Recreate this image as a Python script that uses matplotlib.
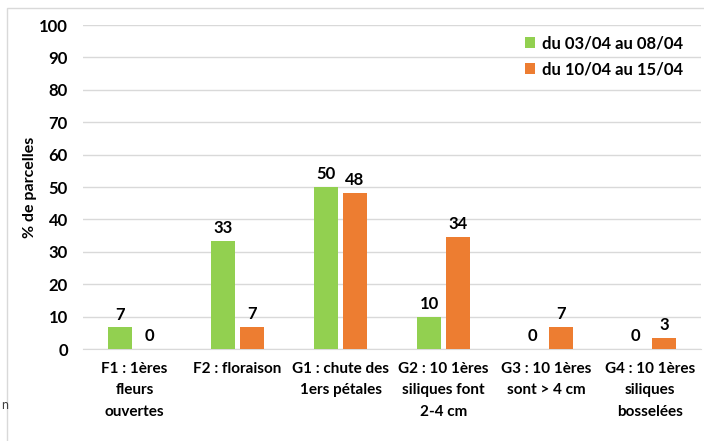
import numpy as np
import matplotlib
matplotlib.use("Agg")
import matplotlib.pyplot as plt
from matplotlib.patches import Rectangle

# Données
stades = ["F1 : 1ères\nfleurs\nouvertes", "F2 : floraison", "G1 : chute des\n1ers pétales",
          "G2 : 10 1ères\nsiliques font\n2-4 cm", "G3 : 10 1ères\nsont > 4 cm",
          "G4 : 10 1ères\nsiliques\nbosselées"]
serie1_nom = "du 03/04 au 08/04"
serie2_nom = "du 10/04 au 15/04"
serie1 = [6.67, 33.3, 50.0, 10.0, 0.0, 0.0]
serie2 = [0.0, 6.9, 48.3, 34.5, 6.9, 3.4]

plt.rcParams['font.family'] = ['Lato', 'DejaVu Sans']

fig = plt.figure(figsize=(7.04, 4.41), dpi=100)
ax = fig.add_axes([0.118, 0.2086, 0.878, 0.7347])

# Cadre du graphique
fig.patches.append(Rectangle((7 / 704, -0.1), 1.2, 1 - 8 / 441 + 0.1, transform=fig.transFigure,
                             fill=False, edgecolor='#d9d9d9', linewidth=1))

x = np.arange(len(stades))
w = 0.235
off = 0.14
b1 = ax.bar(x - off, serie1, w, color='#92D050', label=serie1_nom, zorder=3)
b2 = ax.bar(x + off, serie2, w, color='#ED7D31', label=serie2_nom, zorder=3)

for bars, vals in ((b1, serie1), (b2, serie2)):
    for b, v in zip(bars, vals):
        ax.text(b.get_x() + b.get_width() / 2, v + 1.5, f"{v:.0f}", ha='center', va='bottom',
                fontsize=12, fontweight='bold')

ax.set_xlim(-0.5, len(stades) - 0.5)
ax.set_ylim(0, 100)
ax.set_yticks(range(0, 101, 10))
ax.grid(True, axis='y', color='#d9d9d9', linewidth=1, zorder=0)
for s in ['top', 'right', 'left']:
    ax.spines[s].set_visible(False)
ax.spines['bottom'].set_color('#d9d9d9')
ax.tick_params(axis='both', length=0, labelsize=12)
ax.tick_params(axis='y', pad=11)
ax.tick_params(axis='x', pad=9, labelsize=11)
ax.set_xticks(x)
ax.set_xticklabels(stades, fontweight='bold', linespacing=1.72, va='top')
for lab in ax.get_yticklabels():
    lab.set_fontweight('bold')

ax.set_ylabel('% de parcelles', fontsize=11.5, fontweight='bold')
ax.yaxis.set_label_coords(-0.074, 0.5)

leg = ax.legend(loc='upper left', bbox_to_anchor=(0.69, 1.015), frameon=False,
                prop={'weight': 'bold', 'size': 12}, handlelength=0.65, handleheight=0.65,
                handletextpad=0.4, labelspacing=0.6)

fig.text(1 / 704, 1 - 405 / 441, 'n', fontsize=9, color='#404040', va='center')

plt.savefig('out.png', dpi=100)
